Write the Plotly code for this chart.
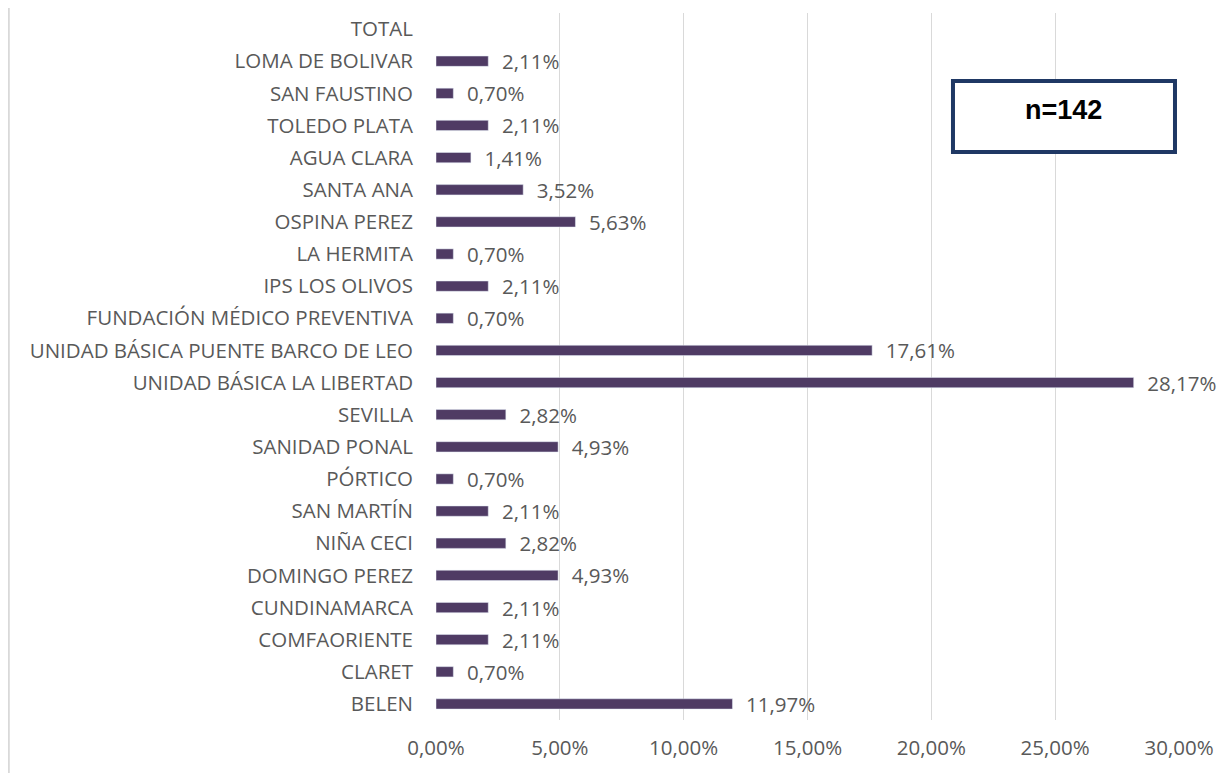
import plotly.graph_objects as go

categories = ["BELEN", "CLARET", "COMFAORIENTE", "CUNDINAMARCA", "DOMINGO PEREZ",
              "NIÑA CECI", "SAN MARTÍN", "PÓRTICO", "SANIDAD PONAL", "SEVILLA",
              "UNIDAD BÁSICA LA LIBERTAD", "UNIDAD BÁSICA PUENTE BARCO DE LEO",
              "FUNDACIÓN MÉDICO PREVENTIVA", "IPS LOS OLIVOS", "LA HERMITA",
              "OSPINA PEREZ", "SANTA ANA", "AGUA CLARA", "TOLEDO PLATA",
              "SAN FAUSTINO", "LOMA DE BOLIVAR", "TOTAL"]
values = [11.97, 0.70, 2.11, 2.11, 4.93, 2.82, 2.11, 0.70, 4.93, 2.82,
          28.17, 17.61, 0.70, 2.11, 0.70, 5.63, 3.52, 1.41, 2.11, 0.70, 2.11, None]
tick_vals = [0, 5, 10, 15, 20, 25, 30]
tick_text = ["0,00%", "5,00%", "10,00%", "15,00%", "20,00%", "25,00%", "30,00%"]

FONT = "Open Sans"
GRAY = "#595959"
FS = 20.5

fig = go.Figure(go.Bar(
    y=categories, x=values, orientation="h",
    marker=dict(color="#4F3B64"),
    width=0.32,
    texttemplate="  %{x:.2f}%", textposition="outside", cliponaxis=False,
    constraintext="none",
    textfont=dict(family=FONT, size=FS, color=GRAY),
))

fig.update_layout(
    width=1230, height=773,
    margin=dict(l=428, r=59, t=5, b=61),
    paper_bgcolor="white", plot_bgcolor="white",
    separators=",.",
    showlegend=False,
    xaxis=dict(range=[0, 30], tickvals=tick_vals, ticktext=tick_text,
               showgrid=True, gridcolor="#D9D9D9", gridwidth=1, zeroline=False,
               showline=False, tickfont=dict(family=FONT, size=FS, color=GRAY),
               ticklabelstandoff=13),
    yaxis=dict(categoryorder="array", categoryarray=categories, range=[-0.5, 21.5],
               showgrid=False, showline=False, zeroline=False,
               tickfont=dict(family=FONT, size=FS, color=GRAY),
               ticklabelstandoff=22),
    shapes=[
        dict(type="line", xref="paper", yref="paper", x0=-0.575, x1=-0.575,
             y0=-0.1, y1=1.03, line=dict(color="#D9D9D9", width=2)),
        dict(type="rect", xref="paper", yref="paper", x0=0.6958, x1=0.9946,
             y0=0.8034, y1=0.9038, fillcolor="white",
             line=dict(color="#1F3864", width=4)),
    ],
    annotations=[dict(xref="paper", yref="paper", x=0.8452, y=0.8628, xanchor="center",
                      yanchor="middle", text="<b>n=142</b>", showarrow=False,
                      font=dict(family="Liberation Sans", size=27, color="black"))],
)

fig.write_html("out.html")
